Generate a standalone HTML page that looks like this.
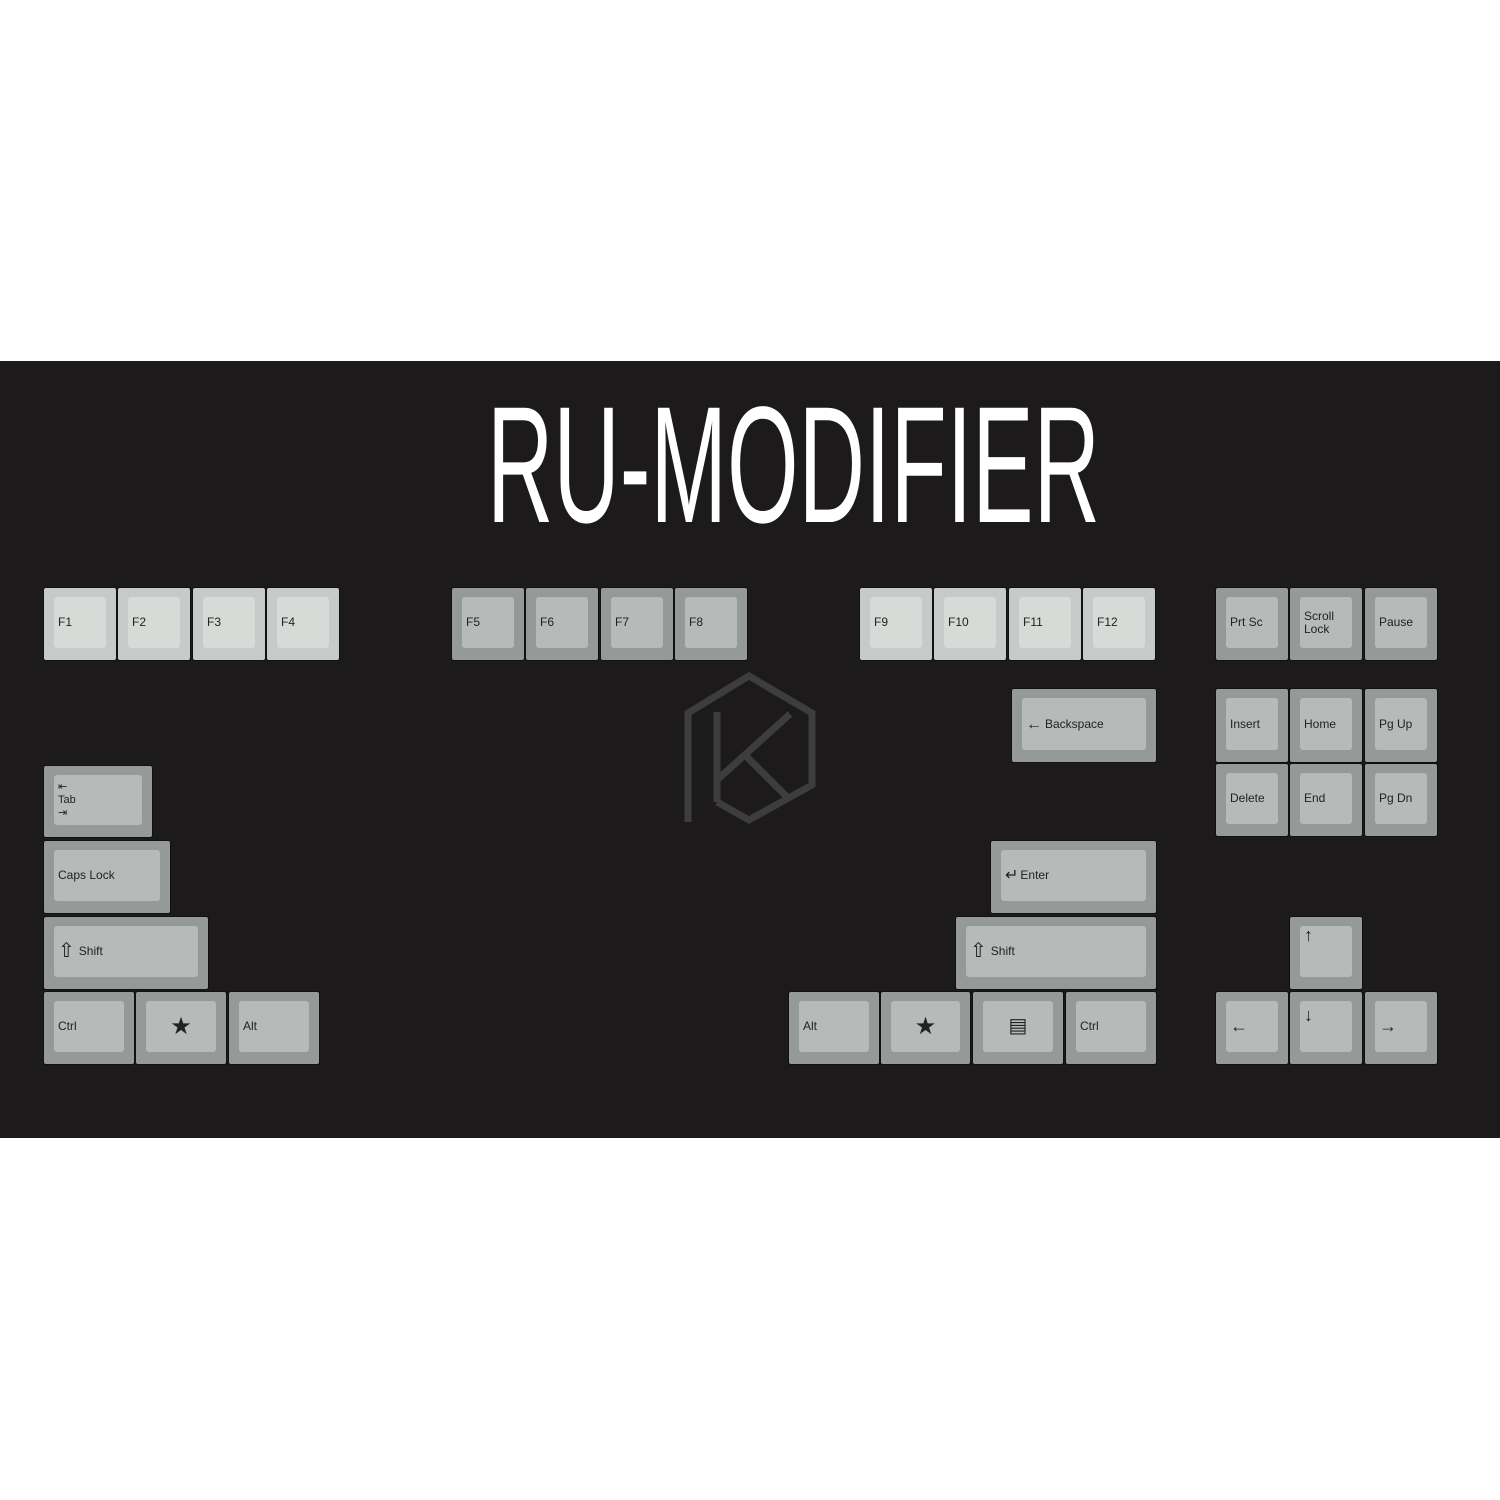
<!DOCTYPE html>
<html><head><style>
body{margin:0;width:1500px;height:1500px;background:#fff;position:relative;overflow:hidden;font-family:"Liberation Sans",sans-serif}
#band{position:absolute;left:0;top:361px;width:1500px;height:777px;background:#1c1a1b}
.k{position:absolute;border-radius:2px;box-shadow:0 0 0 1px #111}
.k .i{position:absolute;left:10px;top:9px;right:10px;bottom:12px;border-radius:3px;display:flex;align-items:center;padding-left:4px;font-size:12px;color:#222;line-height:13px}
.l{background:#c6cac8}.l .i{background:#d7dbd8}
.g{background:#959998}.g .i{background:#b6bab9}
.ic{font-size:20px;margin-right:4px}
.c{justify-content:center;padding-left:0!important}
</style></head><body>
<div id="band"></div>
<svg style="position:absolute;left:0;top:0" width="1500" height="1500">
<text x="487" y="522" fill="#fff" stroke="#1c1a1b" stroke-width="5" paint-order="stroke" font-family="Liberation Sans" font-size="166" textLength="613" lengthAdjust="spacingAndGlyphs">RU-MODIFIER</text>
<g fill="none" stroke="#3d3d3d" stroke-width="7">
<polyline points="688,822 688,713 749,676 812,713 812,785 749,820 717,802"/>
<line x1="717" y1="712" x2="717" y2="802"/>
<line x1="717" y1="780" x2="790" y2="714"/>
<line x1="745" y1="755" x2="790" y2="800"/>
</g>
</svg>

<div class="k l" style="left:44px;top:588px;width:72px;height:72px"><div class="i">F1</div></div>
<div class="k l" style="left:118px;top:588px;width:72px;height:72px"><div class="i">F2</div></div>
<div class="k l" style="left:193px;top:588px;width:72px;height:72px"><div class="i">F3</div></div>
<div class="k l" style="left:267px;top:588px;width:72px;height:72px"><div class="i">F4</div></div>

<div class="k g" style="left:452px;top:588px;width:72px;height:72px"><div class="i">F5</div></div>
<div class="k g" style="left:526px;top:588px;width:72px;height:72px"><div class="i">F6</div></div>
<div class="k g" style="left:601px;top:588px;width:72px;height:72px"><div class="i">F7</div></div>
<div class="k g" style="left:675px;top:588px;width:72px;height:72px"><div class="i">F8</div></div>

<div class="k l" style="left:860px;top:588px;width:72px;height:72px"><div class="i">F9</div></div>
<div class="k l" style="left:934px;top:588px;width:72px;height:72px"><div class="i">F10</div></div>
<div class="k l" style="left:1009px;top:588px;width:72px;height:72px"><div class="i">F11</div></div>
<div class="k l" style="left:1083px;top:588px;width:72px;height:72px"><div class="i">F12</div></div>

<div class="k g" style="left:1216px;top:588px;width:72px;height:72px"><div class="i">Prt Sc</div></div>
<div class="k g" style="left:1290px;top:588px;width:72px;height:72px"><div class="i">Scroll<br>Lock</div></div>
<div class="k g" style="left:1365px;top:588px;width:72px;height:72px"><div class="i">Pause</div></div>

<div class="k g" style="left:1012px;top:689px;width:144px;height:73px"><div class="i"><span style="font-size:16px;margin-right:3px">&#8592;</span>Backspace</div></div>

<div class="k g" style="left:1216px;top:689px;width:72px;height:73px"><div class="i">Insert</div></div>
<div class="k g" style="left:1290px;top:689px;width:72px;height:73px"><div class="i">Home</div></div>
<div class="k g" style="left:1365px;top:689px;width:72px;height:73px"><div class="i">Pg Up</div></div>
<div class="k g" style="left:1216px;top:764px;width:72px;height:72px"><div class="i">Delete</div></div>
<div class="k g" style="left:1290px;top:764px;width:72px;height:72px"><div class="i">End</div></div>
<div class="k g" style="left:1365px;top:764px;width:72px;height:72px"><div class="i">Pg Dn</div></div>

<div class="k g" style="left:44px;top:766px;width:108px;height:71px"><div class="i" style="font-size:11px;line-height:13px">&#8676;<br>Tab<br>&#8677;</div></div>
<div class="k g" style="left:44px;top:841px;width:126px;height:72px"><div class="i">Caps Lock</div></div>
<div class="k g" style="left:44px;top:917px;width:164px;height:72px"><div class="i"><span class="ic">&#8679;</span>Shift</div></div>
<div class="k g" style="left:44px;top:992px;width:90px;height:72px"><div class="i">Ctrl</div></div>
<div class="k g" style="left:136px;top:992px;width:90px;height:72px"><div class="i c"><span style="font-size:24px">&#9733;</span></div></div>
<div class="k g" style="left:229px;top:992px;width:90px;height:72px"><div class="i">Alt</div></div>

<div class="k g" style="left:991px;top:841px;width:165px;height:72px"><div class="i"><span style="font-size:16px;margin-right:2px">&#8629;</span>Enter</div></div>
<div class="k g" style="left:956px;top:917px;width:200px;height:72px"><div class="i"><span class="ic">&#8679;</span>Shift</div></div>
<div class="k g" style="left:789px;top:992px;width:90px;height:72px"><div class="i">Alt</div></div>
<div class="k g" style="left:881px;top:992px;width:89px;height:72px"><div class="i c"><span style="font-size:24px">&#9733;</span></div></div>
<div class="k g" style="left:973px;top:992px;width:90px;height:72px"><div class="i c"><span style="font-size:20px">&#9636;</span></div></div>
<div class="k g" style="left:1066px;top:992px;width:90px;height:72px"><div class="i">Ctrl</div></div>

<div class="k g" style="left:1290px;top:917px;width:72px;height:72px"><div class="i" style="align-items:flex-start;padding-top:3px;font-size:18px">&#8593;</div></div>
<div class="k g" style="left:1216px;top:992px;width:72px;height:72px"><div class="i" style="font-size:18px">&#8592;</div></div>
<div class="k g" style="left:1290px;top:992px;width:72px;height:72px"><div class="i" style="align-items:flex-start;padding-top:8px;font-size:18px">&#8595;</div></div>
<div class="k g" style="left:1365px;top:992px;width:72px;height:72px"><div class="i" style="font-size:18px">&#8594;</div></div>
</body></html>
